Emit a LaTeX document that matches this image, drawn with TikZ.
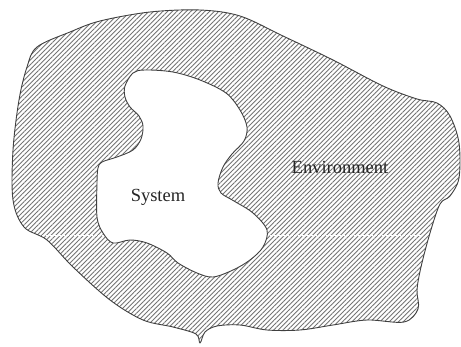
\documentclass[tikz,border=0pt]{standalone}
\usepackage{fontspec}
\setmainfont{Liberation Serif}
\usetikzlibrary{patterns.meta}
\begin{document}
\begin{tikzpicture}[x=1pt,y=-1pt,
  hatch/.style={pattern={Lines[angle=45,distance=3.3pt,line width=0.85pt]},pattern color=black!55},
  rim/.style={draw=black!75,line width=0.9pt,line join=round},
  label/.style={font=\fontsize{18.5}{20}\selectfont,text=black!85,inner sep=0pt}]
\useasboundingbox (0,0) rectangle (461,347);
\def\outerpath{plot[smooth cycle,tension=0.55] coordinates {
 (37,47) (70,32) (100,21) (150,12) (200,10) (240,16) (283,36) (333,60) (383,86)
 (417,99) (437,103) (450,116) (459,143) (459,178) (450,196) (440,204) (430,233)
 (421,267) (417,290) (418,309) (404,322) (367,320) (333,325) (300,330) (267,330)
 (240,325) (217,326) (205,332) (200,343) (196,334) (173,327) (143,320) (110,300)
 (73,267) (47,240) (24,227) (13,200) (13,150) (19,100) (27,67)}}
\def\innerpath{plot[smooth cycle,tension=0.55] coordinates {
 (125,86) (133,73) (145,70) (173,72) (200,80) (226,93) (240,110) (247,127)
 (244,141) (232,154) (223,167) (218,183) (221,193) (234,201) (253,213) (267,230)
 (263,247) (250,260) (233,270) (213,277) (197,273) (178,263) (167,253) (147,243)
 (130,240) (113,243) (103,233) (97,217) (97,183) (98,168) (102,162) (117,157)
 (133,150) (141,139) (143,126) (139,116) (130,107) (125,97)}}
\path[hatch] \outerpath;
\fill[white] \innerpath;
\draw[white,line width=0.6pt,dash pattern=on 3pt off 1pt] (34,235) -- (423,235);
\fill[white] \innerpath;
\draw[rim] \outerpath;
\draw[rim] \innerpath;
\node[label] (system) at (158,197) {System};
\node[label] (environment) at (340,167) {Environment};
\end{tikzpicture}
\end{document}
